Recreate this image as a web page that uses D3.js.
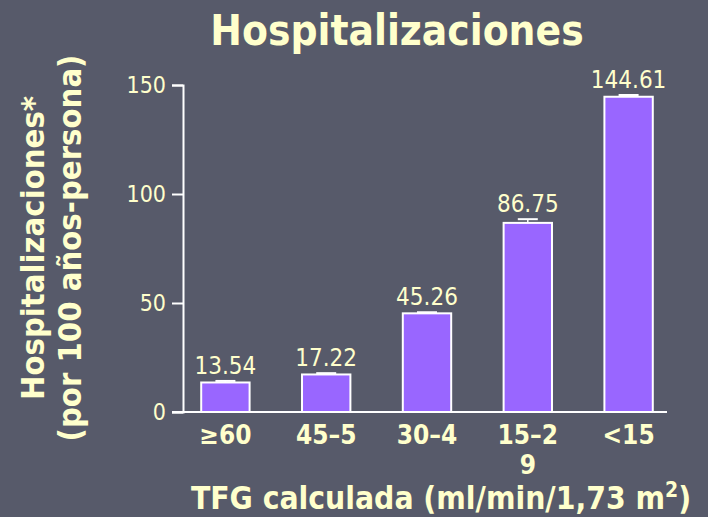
<!DOCTYPE html>
<html>
<head>
<meta charset="utf-8">
<script src="https://cdn.jsdelivr.net/npm/d3@7"></script>
<style>
  body { margin: 0; background: #575a6a; }
  svg text { font-family: "DejaVu Sans Condensed", "DejaVu Sans", sans-serif; fill: #ffffcc; }
</style>
</head>
<body>
<div id="chart"></div>
<script>
let width = 708,
    height = 517;

// data
const categories = ["≥60", "45–59", "30–44", "15–29", "<15"];
const tickText = [["≥60"], ["45–5"], ["30–4"], ["15–2", "9"], ["<15"]];
const values = [13.54, 17.22, 45.26, 86.75, 144.61];
const errors = [0.7, 0.6, 0.5, 1.7, 0.8];
const yTicks = [0, 50, 100, 150];

let svg = d3.select("#chart")
    .append("svg")
    .attr("width", width)
    .attr("height", height);

svg.append("rect")
    .attr("width", width)
    .attr("height", height)
    .attr("fill", "#575a6a");

let xScale = d3.scaleBand()
    .domain(categories)
    .range([175, 679])
    .paddingInner(0.52)
    .paddingOuter(0.26);

let yScale = d3.scaleLinear()
    .domain([0, 150])
    .range([412, 85]);

// title
svg.append("text")
    .attr("x", 397)
    .attr("y", 45)
    .attr("text-anchor", "middle")
    .attr("font-weight", "bold")
    .attr("font-size", 42)
    .text("Hospitalizaciones");

// y axis
let yAxis = d3.axisLeft(yScale)
    .tickValues(yTicks)
    .tickSize(11)
    .tickPadding(6);

let gy = svg.append("g")
    .attr("transform", "translate(183,0)")
    .call(yAxis);
gy.select(".domain").attr("stroke", "#fff").attr("stroke-width", 2);
gy.selectAll(".tick line").attr("stroke", "#fff").attr("stroke-width", 2);
gy.selectAll(".tick text")
    .attr("font-size", 23)
    .attr("font-family", null)
    .attr("fill", "#ffffcc");

// bars
svg.selectAll(".bar")
    .data(values)
    .enter()
    .append("rect")
    .attr("class", "bar")
    .attr("x", (d, i) => xScale(categories[i]))
    .attr("y", d => yScale(d))
    .attr("width", xScale.bandwidth())
    .attr("height", d => yScale(0) - yScale(d))
    .attr("fill", "#9966ff")
    .attr("stroke", "#fff")
    .attr("stroke-width", 2);

// error bars
let eb = svg.selectAll(".err")
    .data(values)
    .enter()
    .append("g")
    .attr("class", "err")
    .attr("transform", (d, i) => "translate(" + (xScale(categories[i]) + xScale.bandwidth() / 2) + ",0)");
eb.append("line")
    .attr("y1", (d, i) => yScale(d))
    .attr("y2", (d, i) => yScale(d + errors[i]))
    .attr("stroke", "#fff")
    .attr("stroke-width", 1.5);
eb.append("line")
    .attr("x1", -10)
    .attr("x2", 10)
    .attr("y1", (d, i) => yScale(d + errors[i]))
    .attr("y2", (d, i) => yScale(d + errors[i]))
    .attr("stroke", "#fff")
    .attr("stroke-width", 2);

// value labels
svg.selectAll(".val")
    .data(values)
    .enter()
    .append("text")
    .attr("class", "val")
    .attr("x", (d, i) => xScale(categories[i]) + xScale.bandwidth() / 2)
    .attr("y", (d, i) => yScale(d + errors[i]) - 7)
    .attr("text-anchor", "middle")
    .attr("font-size", 24)
    .text(d => d.toFixed(2));

// x axis baseline
svg.append("line")
    .attr("x1", 172)
    .attr("x2", 667)
    .attr("y1", yScale(0))
    .attr("y2", yScale(0))
    .attr("stroke", "#fff")
    .attr("stroke-width", 2);

// x tick labels
let xl = svg.selectAll(".xl")
    .data(categories)
    .enter()
    .append("text")
    .attr("class", "xl")
    .attr("text-anchor", "middle")
    .attr("font-weight", "bold")
    .attr("font-size", 26);
xl.selectAll("tspan")
    .data((d, i) => tickText[i].map(t => ({ t: t, c: d })))
    .enter()
    .append("tspan")
    .attr("x", d => xScale(d.c) + xScale.bandwidth() / 2)
    .attr("y", (d, j) => 444 + j * 30)
    .text(d => d.t);

// x title
let xt = svg.append("text")
    .attr("x", 441)
    .attr("y", 509)
    .attr("text-anchor", "middle")
    .attr("font-weight", "bold")
    .attr("font-size", 31.5);
xt.append("tspan").text("TFG calculada (ml/min/1,73 m");
xt.append("tspan").attr("font-size", 21).attr("dy", -12).text("2");
xt.append("tspan").attr("dy", 12).text(")");

// y title
let yt = svg.append("text")
    .attr("transform", "translate(0,248) rotate(-90)")
    .attr("text-anchor", "middle")
    .attr("font-weight", "bold")
    .attr("font-size", 32.5);
yt.append("tspan").attr("x", 0).attr("y", 44).text("Hospitalizaciones*");
yt.append("tspan").attr("x", 0).attr("y", 81).text("(por 100 años-persona)");
</script>
</body>
</html>
